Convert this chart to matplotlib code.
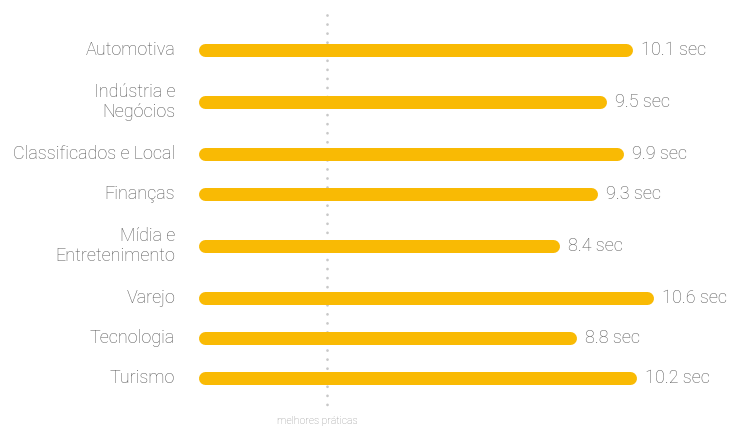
import numpy as np
import matplotlib
matplotlib.use("Agg")
import matplotlib.pyplot as plt

plt.rcParams['font.family'] = ['Roboto', 'DejaVu Sans']

categories = ["Automotiva", "Indústria e\nNegócios", "Classificados e Local", "Finanças",
              "Mídia e\nEntretenimento", "Varejo", "Tecnologia", "Turismo"]
load_secs = [10.1, 9.5, 9.9, 9.3, 8.4, 10.6, 8.8, 10.2]
best_practice = 3.0
best_label = "melhores práticas"

bar_color = "#F9BA04"
text_color = "#555555"

# row positions: two-line labels get a bit more room
n_lines = [c.count("\n") + 1 for c in categories]
ypos = [0.0]
for i in range(1, len(categories)):
    gap = 1.3 if max(n_lines[i - 1], n_lines[i]) > 1 else 1.0
    ypos.append(ypos[-1] + gap)
ypos = np.array(ypos)

W, H = 730, 426
fig = plt.figure(figsize=(W / 100, H / 100), dpi=100)
ax = fig.add_axes([198 / W, 0, 532 / W, 1])
ax.set_xlim(0, 532 / 43)
ax.set_ylim(9.4, -1.25)
ax.axis("off")

bar_px = 13
px_per_unit = 43
r = (bar_px / 2) / px_per_unit

for y, v, lab in zip(ypos, load_secs, categories):
    ax.plot([r, v - r], [y, y], color=bar_color, lw=bar_px * 72 / 100,
            solid_capstyle="round", zorder=3)
    ax.annotate(f"{v} sec", (v, y), xytext=(6, 0), textcoords="offset points",
                ha="left", va="center", fontsize=13, color=text_color,
                fontweight="light")
    ax.annotate(lab, (0, y), xytext=(-16.5, 0), textcoords="offset points",
                ha="right", va="center", fontsize=13, color=text_color,
                fontweight="light", linespacing=1.1, multialignment="right")

ax.plot([best_practice, best_practice], [-0.875, 8.975], color="#c8c8c8", lw=2.0,
        linestyle=(0, (0.01, 3.25)), dash_capstyle="round", zorder=1)
ax.annotate(best_label, (best_practice, 9.275), xytext=(-7, 0), textcoords="offset points",
            ha="center", va="center", fontsize=7.5, color="#8f8f8f", fontweight="light")

fig.savefig("out.png", dpi=100)
